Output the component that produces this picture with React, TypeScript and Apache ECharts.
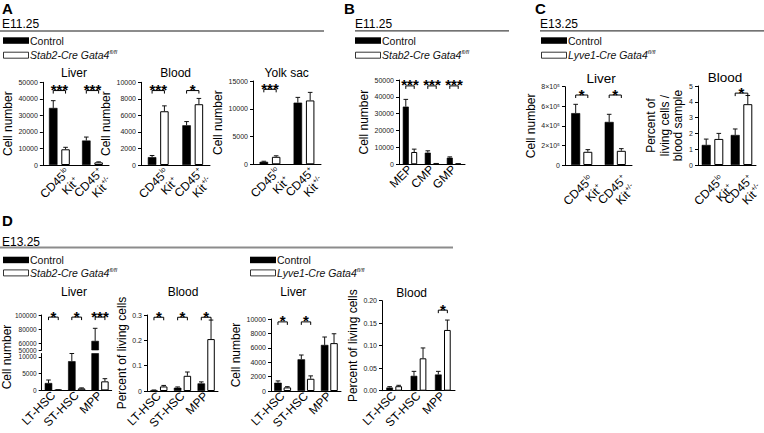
import React, { useEffect, useRef } from 'react';
import * as echarts from 'echarts';

const FONT = '"Liberation Sans", Arial, Helvetica, sans-serif';

// ---------- categories ----------
const kitCats = ['CD45lo Kit+', 'CD45+ Kit+/-'];
const progCats = ['MEP', 'CMP', 'GMP'];
const hscCats = ['LT-HSC', 'ST-HSC', 'MPP'];

// ---------- A: E11.25 Stab2-Cre ----------
const aLiverCtrl = [34500, 14800];
const aLiverCtrlErr = [4400, 2100];
const aLiverMut = [9500, 1600];
const aLiverMutErr = [1200, 300];
const aLiverSig = ['***', '***'];
const aLiverTicks = [0, 10000, 20000, 30000, 40000, 50000];

const aBloodCtrl = [950, 4800];
const aBloodCtrlErr = [200, 450];
const aBloodMut = [6500, 7350];
const aBloodMutErr = [650, 700];
const aBloodSig = ['***', '*'];
const aBloodTicks = [0, 2000, 4000, 6000, 8000, 10000];

const aYolkCtrl = [450, 11100];
const aYolkCtrlErr = [100, 950];
const aYolkMut = [1350, 11500];
const aYolkMutErr = [180, 1450];
const aYolkSig = ['***', ''];
const aYolkTicks = [0, 5000, 10000, 15000];

// ---------- B: E11.25 progenitors ----------
const bCtrl = [34200, 6900, 3900];
const bCtrlErr = [4300, 1100, 500];
const bMut = [7300, 400, 250];
const bMutErr = [1700, 100, 80];
const bSig = ['***', '***', '***'];
const bTicks = [0, 10000, 20000, 30000, 40000, 50000];

// ---------- C: E13.25 Lyve1-Cre ----------
const cLiverCtrl = [530000, 440000];
const cLiverCtrlErr = [90000, 78000];
const cLiverMut = [135000, 145000];
const cLiverMutErr = [22000, 22000];
const cLiverSig = ['*', '*'];
const cLiverTicks = [0, 200000, 400000, 600000, 800000];

const cBloodCtrl = [1.27, 1.9];
const cBloodCtrlErr = [0.37, 0.38];
const cBloodMut = [1.65, 3.85];
const cBloodMutErr = [0.35, 0.55];
const cBloodSig = ['', '*'];
const cBloodTicks = [0, 1, 2, 3, 4, 5];

// ---------- D: E13.25 HSC ----------
const dStabLiverCtrl = [2200, 8700, 63000];
const dStabLiverCtrlErr = [900, 2500, 18000];
const dStabLiverMut = [150, 600, 2700];
const dStabLiverMutErr = [40, 150, 800];
const dStabLiverSig = ['*', '*', '***'];
const dStabLiverUpperTicks = [50000, 60000, 80000, 100000];
const dStabLiverLowerTicks = [0, 5000, 10000];

const dStabBloodCtrl = [0.003, 0.013, 0.03];
const dStabBloodCtrlErr = [0.001, 0.003, 0.006];
const dStabBloodMut = [0.018, 0.06, 0.205];
const dStabBloodMutErr = [0.004, 0.015, 0.075];
const dStabBloodSig = ['*', '*', '*'];
const dStabBloodTicks = [0, 0.1, 0.2, 0.3];

const dLyveLiverCtrl = [1150, 4400, 6400];
const dLyveLiverCtrlErr = [250, 600, 1100];
const dLyveLiverMut = [500, 1700, 6650];
const dLyveLiverMutErr = [100, 400, 1300];
const dLyveLiverSig = ['*', '*', ''];
const dLyveLiverTicks = [0, 2000, 4000, 6000, 8000, 10000];

const dLyveBloodCtrl = [0.007, 0.033, 0.036];
const dLyveBloodCtrlErr = [0.002, 0.01, 0.007];
const dLyveBloodMut = [0.01, 0.072, 0.135];
const dLyveBloodMutErr = [0.002, 0.023, 0.022];
const dLyveBloodSig = ['', '', '*'];
const dLyveBloodTicks = [0, 0.05, 0.1, 0.15, 0.2];

let measureCtx: CanvasRenderingContext2D | null = null;
function measure(t: string, size: number) {
  if (!measureCtx) measureCtx = document.createElement('canvas').getContext('2d');
  if (!measureCtx) return t.length * size * 0.55;
  measureCtx.font = `${size}px "Liberation Sans", Arial, sans-serif`;
  return measureCtx.measureText(t).width;
}

// split "CD45lo Kit+" into lines of [main, superscript]
function kitParts(v: string): [string, string][] {
  return v.split(' ').map((p) => {
    const m = p.match(/^(CD45|Kit)(.*)$/);
    return m ? [m[1], m[2]] : [p, ''];
  });
}

type Panel = {
  left: number; top: number; width: number; height: number;
  cats: string[];
  ctrl: number[]; ctrlErr: number[]; mut: number[]; mutErr: number[];
  sig: string[] | null; sigLevel?: number;
  ticks: number[]; min: number; max: number;
  fmt?: (v: number) => string;
  yName?: string; nameGap?: number;
  bw: number; gap: number;
  showX?: boolean; kit?: boolean; kitDx?: number; kitDy?: number;
  tickFont?: number;
};

function buildOption() {
  const option: any = {
    animation: false,
    backgroundColor: '#ffffff',
    textStyle: { fontFamily: FONT },
    grid: [], xAxis: [], yAxis: [], series: [],
  };
  const kitList: { gi: number; p: Panel }[] = [];

  const addPanel = (p: Panel) => {
    const gi = option.grid.length;
    if (p.kit) kitList.push({ gi, p });
    option.grid.push({ left: p.left, top: p.top, width: p.width, height: p.height, containLabel: false });
    option.xAxis.push({
      type: 'category', gridIndex: gi, data: p.cats, show: p.showX !== false,
      axisLine: { show: true, lineStyle: { color: '#000', width: 1 } },
      axisTick: { show: false },
      axisLabel: {
        show: !p.kit,
        rotate: 45, interval: 0, margin: 3, fontSize: 12, fontFamily: FONT, color: '#000',
      },
    });
    option.yAxis.push({
      type: 'value', gridIndex: gi, min: p.min, max: p.max,
      splitLine: { show: false },
      axisLine: { show: true, lineStyle: { color: '#000', width: 1 } },
      axisTick: { show: true, length: 3, lineStyle: { color: '#000', width: 1 }, customValues: p.ticks },
      axisLabel: {
        fontSize: p.tickFont || 7, fontFamily: FONT, color: '#222', margin: 5, customValues: p.ticks,
        formatter: p.fmt ? p.fmt : (v: number) => String(v),
      },
      name: p.yName || '', nameLocation: 'middle', nameGap: p.nameGap || 20, nameRotate: 90,
      nameTextStyle: { fontSize: 12, fontFamily: FONT, color: '#000', lineHeight: 13.5 },
    });
    const common = { xAxisIndex: gi, yAxisIndex: gi, barWidth: p.bw, barGap: p.gap + '%', silent: true, clip: true };
    option.series.push({
      type: 'bar', ...common, data: p.ctrl,
      itemStyle: { color: '#000', borderColor: '#000', borderWidth: 0.6 },
    });
    option.series.push({
      type: 'bar', ...common, data: p.mut,
      itemStyle: { color: '#fff', borderColor: '#000', borderWidth: 1 },
    });
    const w = p.bw;
    const off = (w + (w * p.gap) / 100) / 2;
    option.series.push({
      type: 'custom', xAxisIndex: gi, yAxisIndex: gi, silent: true, z: 5, clip: false,
      data: p.cats.map((_, i) => [i, p.ctrl[i]]),
      renderItem: (params: any, api: any) => {
        const i = params.dataIndex;
        const base = api.coord([i, p.min]);
        const xc = base[0];
        const children: any[] = [];
        const pairs: [number, number, number][] = [
          [p.ctrl[i], p.ctrlErr[i], -off],
          [p.mut[i], p.mutErr[i], off],
        ];
        for (const [v, e, dx] of pairs) {
          if (v < p.min || v > p.max || !e) continue;
          const topV = Math.min(v + e, p.max);
          const y1 = api.coord([i, v])[1];
          const y2 = api.coord([i, topV])[1];
          const x = xc + dx;
          children.push({ type: 'line', shape: { x1: x, y1, x2: x, y2 }, style: { stroke: '#111', lineWidth: 1 } });
          children.push({ type: 'line', shape: { x1: x - 2.3, y1: y2, x2: x + 2.3, y2 }, style: { stroke: '#111', lineWidth: 1 } });
        }
        const s = p.sig ? p.sig[i] : '';
        if (s && p.sigLevel !== undefined) {
          const yb = api.coord([i, p.sigLevel])[1];
          const xl = xc - off;
          const xr = xc + off;
          children.push({
            type: 'polyline',
            shape: { points: [[xl, yb + 3], [xl, yb], [xr, yb], [xr, yb + 3]] },
            style: { stroke: '#000', lineWidth: 1, fill: null },
          });
          children.push({
            type: 'text', x: (xl + xr) / 2, y: yb - 1,
            style: { text: s, fontSize: 15, fontWeight: 'bold', fontFamily: FONT, fill: '#000', align: 'center', verticalAlign: 'middle', lineHeight: 9 },
          });
        }
        return { type: 'group', children };
      },
    });
  };

  const cFmt = (v: number) => (v === 0 ? '0' : `${v / 100000}×10⁵`);
  const twoDec = (v: number) => v.toFixed(2);

  // A
  addPanel({ left: 41, top: 82.3, width: 68, height: 82.7, cats: kitCats, ctrl: aLiverCtrl, ctrlErr: aLiverCtrlErr, mut: aLiverMut, mutErr: aLiverMutErr, sig: aLiverSig, sigLevel: 45000, ticks: aLiverTicks, min: 0, max: 50000, yName: 'Cell number', nameGap: 22, bw: 8.5, gap: 45, kit: true, kitDx: 13, kitDy: 10 });
  addPanel({ left: 141, top: 82.3, width: 69, height: 82.7, cats: kitCats, ctrl: aBloodCtrl, ctrlErr: aBloodCtrlErr, mut: aBloodMut, mutErr: aBloodMutErr, sig: aBloodSig, sigLevel: 9000, ticks: aBloodTicks, min: 0, max: 10000, yName: 'Cell number', nameGap: 20, bw: 8.5, gap: 45, kit: true, kitDx: 13, kitDy: 10 });
  addPanel({ left: 253, top: 81, width: 68, height: 83.3, cats: kitCats, ctrl: aYolkCtrl, ctrlErr: aYolkCtrlErr, mut: aYolkMut, mutErr: aYolkMutErr, sig: aYolkSig, sigLevel: 13500, ticks: aYolkTicks, min: 0, max: 15000, yName: 'Cell number', nameGap: 21, bw: 8.5, gap: 45, kit: true, kitDx: 13, kitDy: 10 });
  // B
  addPanel({ left: 399, top: 80, width: 66, height: 84.3, cats: progCats, ctrl: bCtrl, ctrlErr: bCtrlErr, mut: bMut, mutErr: bMutErr, sig: bSig, sigLevel: 46500, ticks: bTicks, min: 0, max: 50000, yName: 'Cell number', nameGap: 26, bw: 6, gap: 40 });
  // C
  addPanel({ left: 565, top: 86.7, width: 67, height: 78.3, cats: kitCats, ctrl: cLiverCtrl, ctrlErr: cLiverCtrlErr, mut: cLiverMut, mutErr: cLiverMutErr, sig: cLiverSig, sigLevel: 715000, ticks: cLiverTicks, min: 0, max: 800000, fmt: cFmt, yName: 'Cell number', nameGap: 22, bw: 9, gap: 35, kit: true, kitDx: 14, kitDy: 17 });
  addPanel({ left: 698, top: 86, width: 58, height: 79, cats: kitCats, ctrl: cBloodCtrl, ctrlErr: cBloodCtrlErr, mut: cBloodMut, mutErr: cBloodMutErr, sig: cBloodSig, sigLevel: 4.55, ticks: cBloodTicks, min: 0, max: 5, yName: 'Percent of\nliving cells /\nblood sample', nameGap: 12, bw: 9, gap: 40, kit: true, kitDx: 14, kitDy: 17 });
  // D left (Stab2) liver, broken axis
  addPanel({ left: 41.7, top: 315, width: 70, height: 35, cats: hscCats, ctrl: dStabLiverCtrl, ctrlErr: dStabLiverCtrlErr, mut: dStabLiverMut, mutErr: dStabLiverMutErr, sig: dStabLiverSig, sigLevel: 97000, ticks: dStabLiverUpperTicks, min: 50000, max: 100000, bw: 7.5, gap: 30, showX: false, tickFont: 6.5 });
  addPanel({ left: 41.7, top: 353.5, width: 70, height: 36.9, cats: hscCats, ctrl: dStabLiverCtrl, ctrlErr: dStabLiverCtrlErr, mut: dStabLiverMut, mutErr: dStabLiverMutErr, sig: null, ticks: dStabLiverLowerTicks, min: 0, max: 11000, bw: 7.5, gap: 30, tickFont: 6.5 });
  addPanel({ left: 147, top: 315, width: 71, height: 76, cats: hscCats, ctrl: dStabBloodCtrl, ctrlErr: dStabBloodCtrlErr, mut: dStabBloodMut, mutErr: dStabBloodMutErr, sig: dStabBloodSig, sigLevel: 0.291, ticks: dStabBloodTicks, min: 0, max: 0.3, yName: 'Percent of living cells', nameGap: 17, bw: 7.5, gap: 30 });
  // D right (Lyve1)
  addPanel({ left: 271, top: 319, width: 70, height: 72, cats: hscCats, ctrl: dLyveLiverCtrl, ctrlErr: dLyveLiverCtrlErr, mut: dLyveLiverMut, mutErr: dLyveLiverMutErr, sig: dLyveLiverSig, sigLevel: 9600, ticks: dLyveLiverTicks, min: 0, max: 10000, yName: 'Cell number', nameGap: 21, bw: 7.5, gap: 25 });
  addPanel({ left: 382, top: 300.7, width: 73, height: 90, cats: hscCats, ctrl: dLyveBloodCtrl, ctrlErr: dLyveBloodCtrlErr, mut: dLyveBloodMut, mutErr: dLyveBloodMutErr, sig: dLyveBloodSig, sigLevel: 0.179, ticks: dLyveBloodTicks, min: 0, max: 0.2, fmt: twoDec, yName: 'Percent of living cells', nameGap: 19, bw: 6.7, gap: 35 });

  // ---------- decorations ----------
  const els: any[] = [];
  const txt = (x: number, y: number, text: string, o: any = {}) =>
    els.push({ type: 'text', x, y, silent: true, style: { text, fontFamily: FONT, fill: '#000', fontSize: 12, verticalAlign: 'middle', ...o } });
  const hline = (x1: number, x2: number, y: number, stroke: string, lw: number) =>
    els.push({ type: 'line', silent: true, shape: { x1, y1: y, x2, y2: y }, style: { stroke, lineWidth: lw } });
  const legend = (x: number, y: number, gap: number, mutant: string) => {
    els.push({ type: 'rect', silent: true, shape: { x, y, width: 26, height: 6.5 }, style: { fill: '#000' } });
    txt(x + 27, y + 3.6, 'Control', { fontSize: 10.5, fill: '#111' });
    els.push({ type: 'rect', silent: true, shape: { x: x + 0.5, y: y + gap + 0.5, width: 25, height: 6 }, style: { fill: '#fff', stroke: '#000', lineWidth: 0.8 } });
    els.push({
      type: 'text', x: x + 27, y: y + gap + 3.6, silent: true,
      style: {
        text: `{i|${mutant}}{s|fl/fl}`, verticalAlign: 'middle', fontFamily: FONT,
        rich: {
          i: { fontSize: 10.5, fontStyle: 'italic', fontFamily: FONT, fill: '#111', lineHeight: 12 },
          s: { fontSize: 6, fontStyle: 'italic', fontFamily: FONT, fill: '#111', lineHeight: 7, verticalAlign: 'top' },
        },
      },
    });
  };

  // A
  txt(2, 8.5, 'A', { fontSize: 15, fontWeight: 'bold', lineHeight: 15 });
  txt(2, 23.5, 'E11.25');
  hline(0, 324, 31, '#8c8c8c', 2);
  legend(3, 37.3, 14.4, 'Stab2-Cre Gata4');
  txt(74, 72.7, 'Liver', { align: 'center' });
  txt(175.7, 72.7, 'Blood', { align: 'center' });
  txt(286.7, 72.7, 'Yolk sac', { align: 'center' });
  // B
  txt(344, 8.5, 'B', { fontSize: 15, fontWeight: 'bold', lineHeight: 15 });
  txt(355, 23.5, 'E11.25');
  hline(355, 509, 30.8, '#444', 1.2);
  legend(355, 37.3, 14.4, 'Stab2-Cre Gata4');
  // C
  txt(535, 8.5, 'C', { fontSize: 15, fontWeight: 'bold', lineHeight: 15 });
  txt(540, 23.5, 'E13.25');
  hline(540, 764, 30.8, '#444', 1.2);
  legend(541, 37.3, 14.4, 'Lyve1-Cre Gata4');
  txt(601, 78.5, 'Liver', { align: 'center', fontSize: 13.5 });
  txt(725, 77, 'Blood', { align: 'center', fontSize: 13.5 });
  // D
  txt(2, 220, 'D', { fontSize: 15, fontWeight: 'bold', lineHeight: 15 });
  txt(2, 241.7, 'E13.25');
  hline(0, 453, 247.5, '#8c8c8c', 2);
  legend(3, 256.7, 12.7, 'Stab2-Cre Gata4');
  legend(250, 256.7, 12.7, 'Lyve1-Cre Gata4');
  txt(74, 291.7, 'Liver', { align: 'center' });
  txt(183, 291.7, 'Blood', { align: 'center' });
  txt(293.3, 291.7, 'Liver', { align: 'center' });
  txt(411.7, 292.7, 'Blood', { align: 'center' });
  els.push({
    type: 'text', x: 7, y: 357, rotation: Math.PI / 2, silent: true,
    style: { text: 'Cell number', fontFamily: FONT, fontSize: 12, fill: '#000', align: 'center', verticalAlign: 'middle' },
  });

  option.graphic = { elements: els };
  return { option, kitList, els };
}

// rotated two-line category labels with superscripts, anchored via the axis scale
function kitLabelEls(chart: any, kitList: { gi: number; p: Panel }[]) {
  const out: any[] = [];
  const c = Math.SQRT1_2;
  for (const { gi, p } of kitList) {
    p.cats.forEach((cat, i) => {
      const pt = chart.convertToPixel({ gridIndex: gi }, [i, p.min]);
      if (!pt) return;
      const ax = pt[0] + (p.kitDx || 10);
      const ay = pt[1] + (p.kitDy || 12);
      const place = (lx: number, ly: number) => [ax + lx * c + ly * c, ay - lx * c + ly * c];
      const lines = kitParts(cat);
      lines.forEach(([main, sup], k) => {
        const ly = (k - (lines.length - 1) / 2) * 13;
        const supW = sup ? measure(sup, 7) + 0.3 : 0;
        const [mx, my] = place(-supW, ly);
        out.push({
          type: 'text', x: mx, y: my, rotation: Math.PI / 4, silent: true,
          style: { text: main, fontSize: 12, fontFamily: FONT, fill: '#000', align: 'right', verticalAlign: 'middle' },
        });
        if (sup) {
          const [sx, sy] = place(0, ly - 3.5);
          out.push({
            type: 'text', x: sx, y: sy, rotation: Math.PI / 4, silent: true,
            style: { text: sup, fontSize: 7, fontFamily: FONT, fill: '#000', align: 'right', verticalAlign: 'middle' },
          });
        }
      });
    });
  }
  return out;
}

export default function App() {
  const ref = useRef<HTMLDivElement>(null);
  useEffect(() => {
    if (!ref.current) return;
    const chart = echarts.init(ref.current, undefined, { renderer: 'svg' });
    const { option, kitList, els } = buildOption();
    chart.setOption(option);
    const labels = kitLabelEls(chart, kitList);
    chart.setOption({ graphic: { elements: [...els, ...labels] } });
    return () => chart.dispose();
  }, []);
  return (
    <div
      ref={ref}
      style={{ position: 'absolute', left: 0, top: 0, width: 764, height: 433, background: '#fff' }}
    />
  );
}
